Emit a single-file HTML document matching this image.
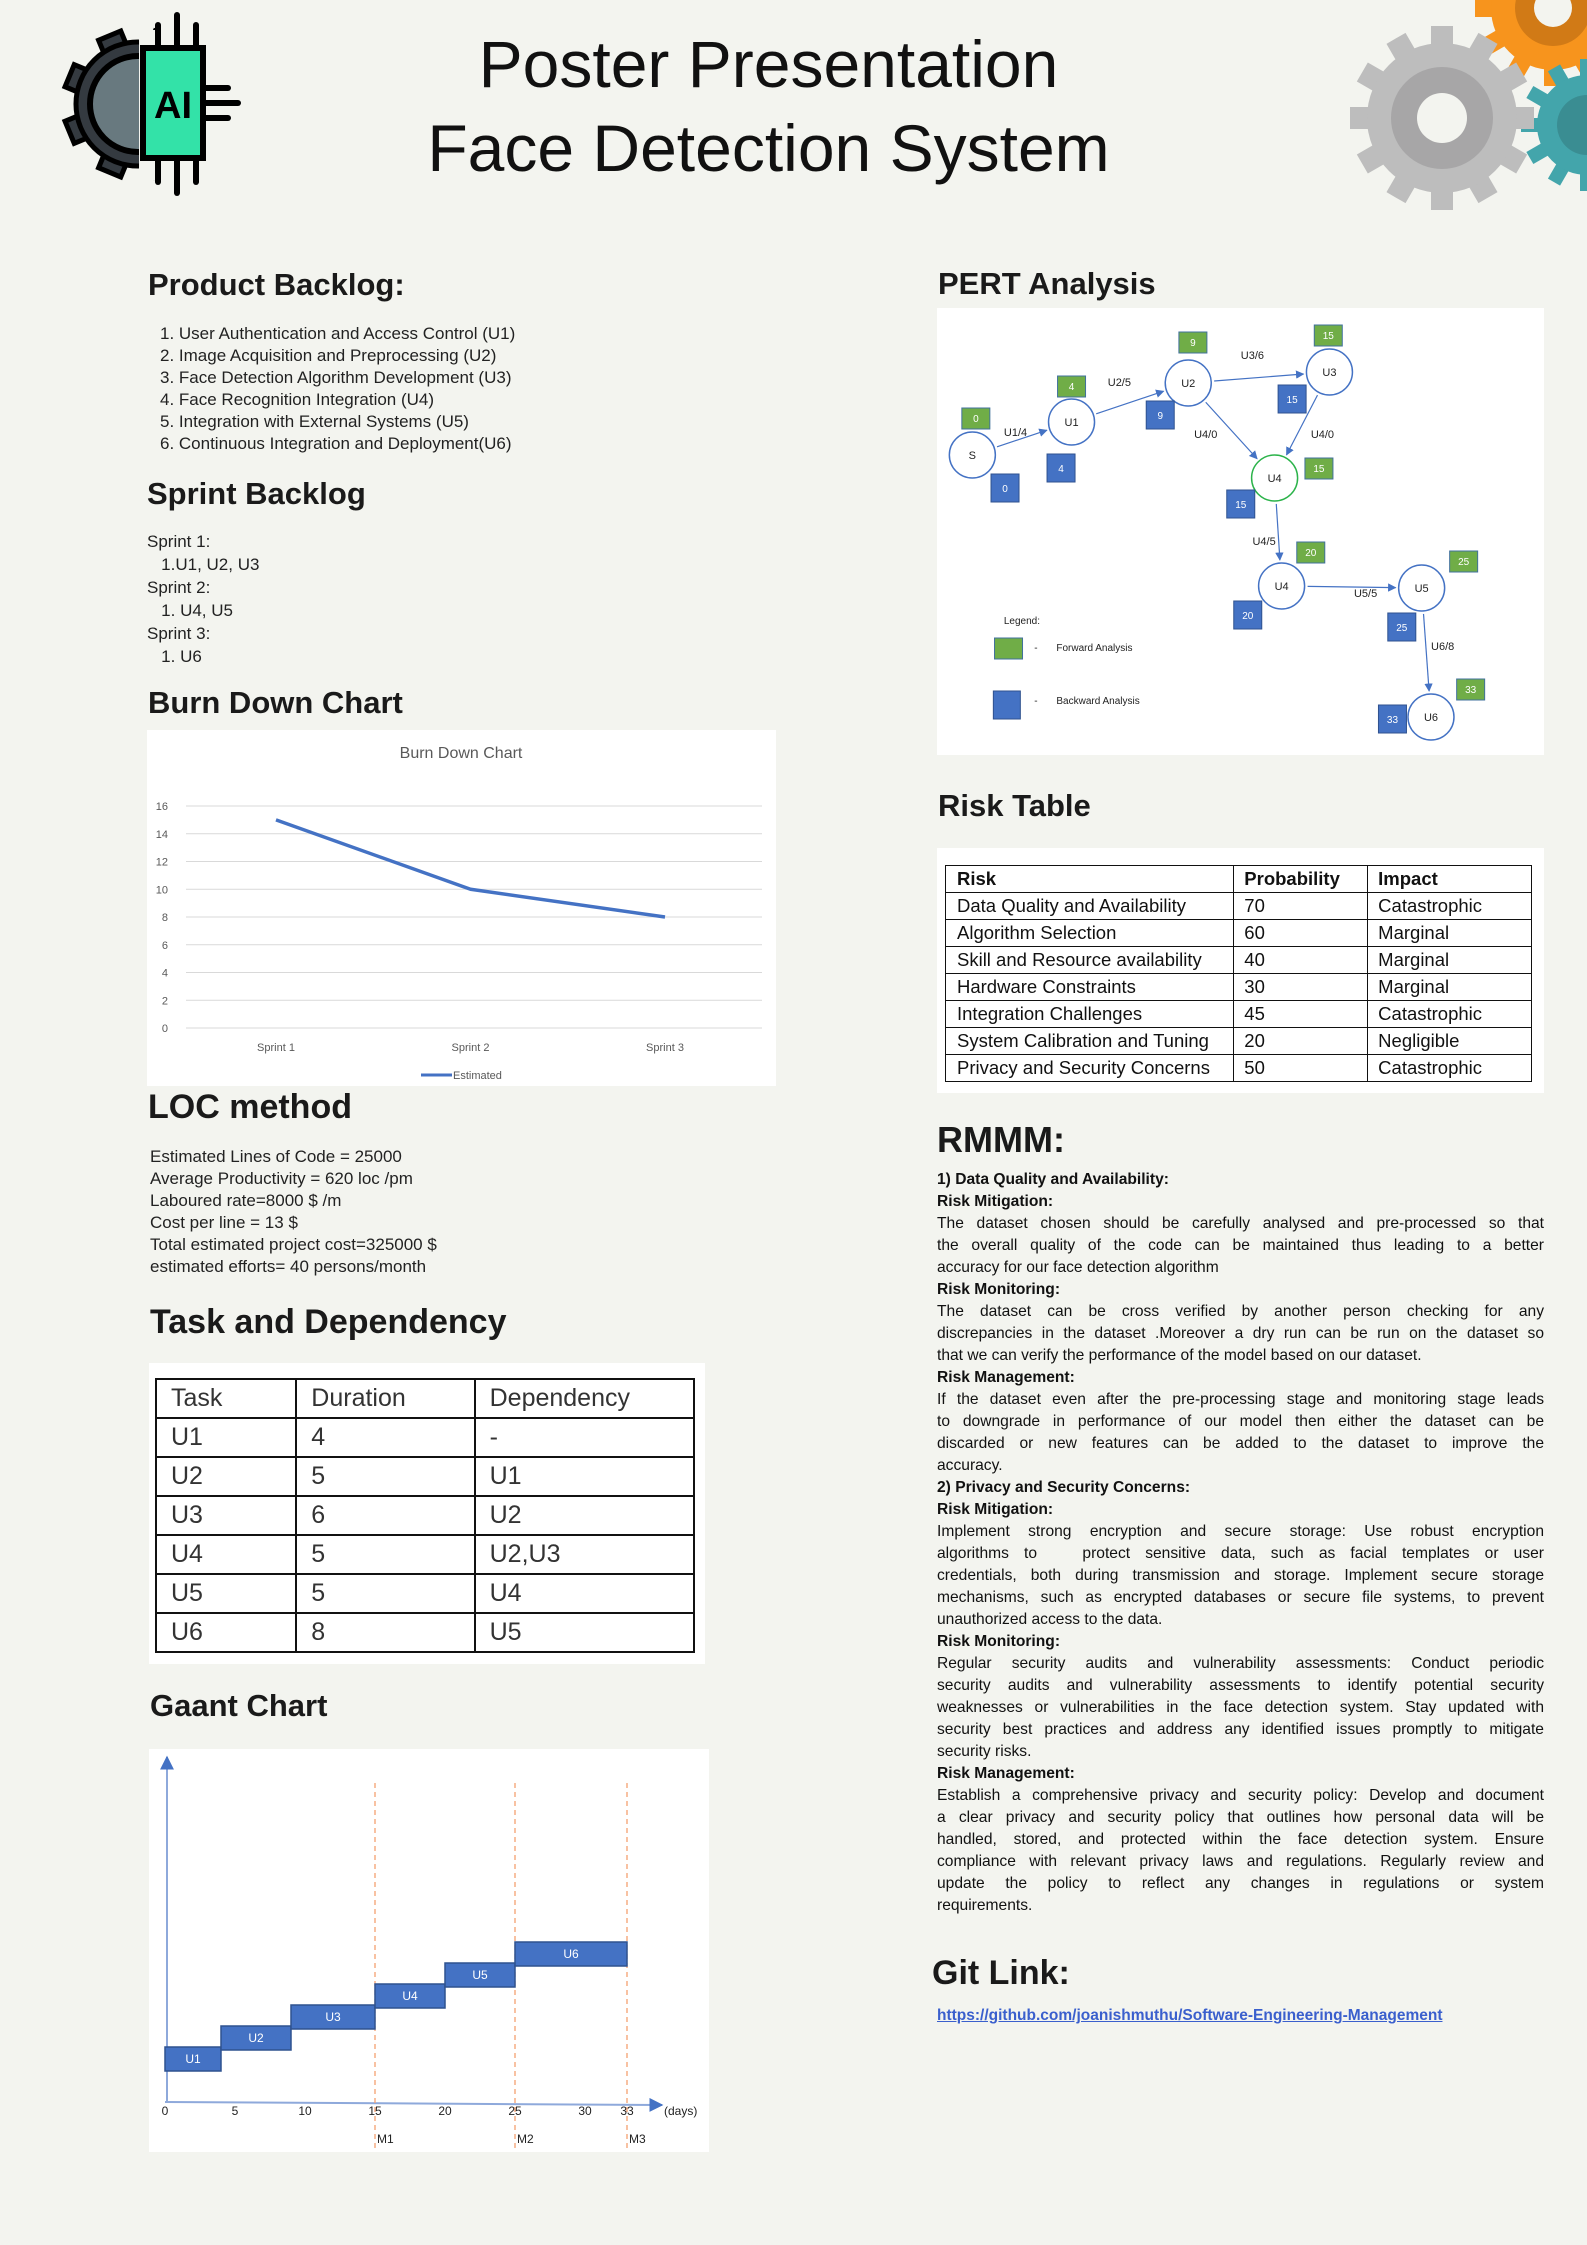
<!DOCTYPE html>
<html><head><meta charset="utf-8">
<style>
body{margin:0;width:1587px;height:2245px;background:#f3f4ef;position:relative;overflow:hidden;font-family:"Liberation Sans",sans-serif;color:#111;}
.a{position:absolute;white-space:nowrap;}
.h{position:absolute;font-weight:bold;font-size:31px;line-height:40px;color:#1a1a1a;white-space:nowrap;}
.t{position:absolute;font-size:17px;line-height:22px;color:#222;white-space:nowrap;}
.box{position:absolute;background:#fff;}
table{border-collapse:collapse;}
#rm{position:absolute;left:937px;top:1169px;width:607px;font-size:15.6px;line-height:22px;color:#111;}
#rm div{white-space:nowrap;overflow:visible;}
#rm .j{text-align:justify;text-align-last:justify;}
#rm b{font-weight:bold;}
</style></head><body>
<div class="a" style="left:0;width:1537px;text-align:center;top:23px;font-size:66px;line-height:82px;color:#111;">Poster Presentation</div>
<div class="a" style="left:0;width:1537px;text-align:center;top:107px;font-size:66px;line-height:82px;color:#111;">Face Detection System</div>

<div class="h" style="left:148px;top:265px;">Product Backlog:</div>
<div class="t" style="left:160px;top:323px;">
1.&nbsp;User Authentication and Access Control (U1)<br>2.&nbsp;Image Acquisition and Preprocessing (U2)<br>3.&nbsp;Face Detection Algorithm Development (U3)<br>4.&nbsp;Face Recognition Integration (U4)<br>5.&nbsp;Integration with External Systems (U5)<br>6.&nbsp;Continuous Integration and Deployment(U6)</div>

<div class="h" style="left:147px;top:474px;">Sprint Backlog</div>
<div class="t" style="left:147px;top:530px;line-height:23px;">
Sprint 1:<br>&nbsp;&nbsp;&nbsp;1.U1, U2, U3<br>Sprint 2:<br>&nbsp;&nbsp;&nbsp;1.&nbsp;U4, U5<br>Sprint 3:<br>&nbsp;&nbsp;&nbsp;1.&nbsp;U6</div>

<div class="h" style="left:148px;top:683px;">Burn Down Chart</div>
<div class="box" style="left:147px;top:730px;width:629px;height:356px;"></div>

<div class="h" style="left:148px;top:1087px;font-size:34px;">LOC method</div>
<div class="t" style="left:150px;top:1146px;">
Estimated Lines of Code = 25000<br>Average Productivity = 620 loc /pm<br>Laboured rate=8000 $ /m<br>Cost per line = 13 $<br>Total estimated project cost=325000 $<br>estimated efforts= 40 persons/month</div>

<div class="h" style="left:150px;top:1302px;font-size:34px;">Task and Dependency</div>
<div class="box" style="left:149px;top:1363px;width:556px;height:301px;">
<table style="position:absolute;left:6px;top:15px;width:540px;font-size:25px;color:#333;">
<colgroup><col style="width:141px"><col style="width:179px"><col style="width:220px"></colgroup>
<tr style="height:39px"><td style="border:2px solid #111;padding-left:14px;">Task</td><td style="border:2px solid #111;padding-left:14px;">Duration</td><td style="border:2px solid #111;padding-left:14px;">Dependency</td></tr>
<tr style="height:39px"><td style="border:2px solid #111;padding-left:14px;">U1</td><td style="border:2px solid #111;padding-left:14px;">4</td><td style="border:2px solid #111;padding-left:14px;">-</td></tr>
<tr style="height:39px"><td style="border:2px solid #111;padding-left:14px;">U2</td><td style="border:2px solid #111;padding-left:14px;">5</td><td style="border:2px solid #111;padding-left:14px;">U1</td></tr>
<tr style="height:39px"><td style="border:2px solid #111;padding-left:14px;">U3</td><td style="border:2px solid #111;padding-left:14px;">6</td><td style="border:2px solid #111;padding-left:14px;">U2</td></tr>
<tr style="height:39px"><td style="border:2px solid #111;padding-left:14px;">U4</td><td style="border:2px solid #111;padding-left:14px;">5</td><td style="border:2px solid #111;padding-left:14px;">U2,U3</td></tr>
<tr style="height:39px"><td style="border:2px solid #111;padding-left:14px;">U5</td><td style="border:2px solid #111;padding-left:14px;">5</td><td style="border:2px solid #111;padding-left:14px;">U4</td></tr>
<tr style="height:39px"><td style="border:2px solid #111;padding-left:14px;">U6</td><td style="border:2px solid #111;padding-left:14px;">8</td><td style="border:2px solid #111;padding-left:14px;">U5</td></tr>
</table></div>

<div class="h" style="left:150px;top:1686px;">Gaant Chart</div>
<div class="box" style="left:149px;top:1749px;width:560px;height:403px;"></div>

<div class="h" style="left:938px;top:264px;">PERT Analysis</div>
<div class="box" style="left:937px;top:308px;width:607px;height:447px;"></div>

<div class="h" style="left:938px;top:786px;">Risk Table</div>
<div class="box" style="left:937px;top:848px;width:607px;height:245px;">
<table style="position:absolute;left:8px;top:17px;width:587px;font-size:18.5px;color:#111;">
<colgroup><col style="width:289px"><col style="width:134px"><col style="width:164px"></colgroup>
<tr style="height:27px;font-weight:bold"><td style="border:1.5px solid #111;padding-left:11px;">Risk</td><td style="border:1.5px solid #111;padding-left:10px;">Probability</td><td style="border:1.5px solid #111;padding-left:10px;">Impact</td></tr>
<tr style="height:27px"><td style="border-left:1.5px solid #111;border-right:1.5px solid #111;padding-left:11px;">Data Quality and Availability</td><td style="border-right:1.5px solid #111;padding-left:10px;">70</td><td style="border-right:1.5px solid #111;padding-left:10px;">Catastrophic</td></tr>
<tr style="height:27px"><td style="border:1.5px solid #111;padding-left:11px;">Algorithm Selection</td><td style="border:1.5px solid #111;padding-left:10px;">60</td><td style="border:1.5px solid #111;padding-left:10px;">Marginal</td></tr>
<tr style="height:27px"><td style="border:1.5px solid #111;padding-left:11px;">Skill and Resource availability</td><td style="border:1.5px solid #111;padding-left:10px;">40</td><td style="border:1.5px solid #111;padding-left:10px;">Marginal</td></tr>
<tr style="height:27px"><td style="border:1.5px solid #111;padding-left:11px;">Hardware Constraints</td><td style="border:1.5px solid #111;padding-left:10px;">30</td><td style="border:1.5px solid #111;padding-left:10px;">Marginal</td></tr>
<tr style="height:27px"><td style="border:1.5px solid #111;padding-left:11px;">Integration Challenges</td><td style="border:1.5px solid #111;padding-left:10px;">45</td><td style="border:1.5px solid #111;padding-left:10px;">Catastrophic</td></tr>
<tr style="height:27px"><td style="border:1.5px solid #111;padding-left:11px;">System Calibration and Tuning</td><td style="border:1.5px solid #111;padding-left:10px;">20</td><td style="border:1.5px solid #111;padding-left:10px;">Negligible</td></tr>
<tr style="height:27px"><td style="border:1.5px solid #111;padding-left:11px;">Privacy and Security Concerns</td><td style="border:1.5px solid #111;padding-left:10px;">50</td><td style="border:1.5px solid #111;padding-left:10px;">Catastrophic</td></tr>
</table></div>

<div class="h" style="left:937px;top:1120px;font-size:36px;">RMMM:</div>
<div id="rm">
<div><b>1) Data Quality and Availability:</b></div>
<div><b>Risk Mitigation:</b></div>
<div class="j">The dataset chosen should be carefully analysed and pre-processed so that</div>
<div class="j">the overall quality of the code can be maintained thus leading to a better</div>
<div>accuracy for our face detection algorithm</div>
<div><b>Risk Monitoring:</b></div>
<div class="j">The dataset can be cross verified by another person checking for any</div>
<div class="j">discrepancies in the dataset .Moreover a dry run can be run on the dataset so</div>
<div>that we can verify the performance of the model based on our dataset.</div>
<div><b>Risk Management:</b></div>
<div class="j">If the dataset even after the pre-processing stage and monitoring stage leads</div>
<div class="j">to downgrade in performance of our model then either the dataset can be</div>
<div class="j">discarded or new features can be added to the dataset to improve the</div>
<div>accuracy.</div>
<div><b>2) Privacy and Security Concerns:</b></div>
<div><b>Risk Mitigation:</b></div>
<div class="j">Implement strong encryption and secure storage: Use robust encryption</div>
<div class="j">algorithms to &nbsp; protect sensitive data, such as facial templates or user</div>
<div class="j">credentials, both during transmission and storage. Implement secure storage</div>
<div class="j">mechanisms, such as encrypted databases or secure file systems, to prevent</div>
<div>unauthorized access to the data.</div>
<div><b>Risk Monitoring:</b></div>
<div class="j">Regular security audits and vulnerability assessments: Conduct periodic</div>
<div class="j">security audits and vulnerability assessments to identify potential security</div>
<div class="j">weaknesses or vulnerabilities in the face detection system. Stay updated with</div>
<div class="j">security best practices and address any identified issues promptly to mitigate</div>
<div>security risks.</div>
<div><b>Risk Management:</b></div>
<div class="j">Establish a comprehensive privacy and security policy: Develop and document</div>
<div class="j">a clear privacy and security policy that outlines how personal data will be</div>
<div class="j">handled, stored, and protected within the face detection system. Ensure</div>
<div class="j">compliance with relevant privacy laws and regulations. Regularly review and</div>
<div class="j">update the policy to reflect any changes in regulations or system</div>
<div>requirements.</div>
</div>

<div class="h" style="left:932px;top:1953px;font-size:34px;">Git Link:</div>
<a class="a" style="left:937px;top:2007px;font-size:15.5px;font-weight:bold;color:#3a5fcd;text-decoration:underline;">https://github.com/joanishmuthu/Software-Engineering-Management</a>

<svg id="ov" width="1587" height="2245" style="position:absolute;left:0;top:0;" xmlns="http://www.w3.org/2000/svg" font-family="Liberation Sans, sans-serif">
<defs>
<marker id="ar" viewBox="0 0 10 10" refX="9" refY="5" markerWidth="7" markerHeight="7" orient="auto"><path d="M0 0L10 5L0 10z" fill="#4472c4"/></marker>
</defs>
<g id="logos"></g>
<g id="bd"></g>
<g id="gantt"></g>
<g id="pert"></g>
</svg>

<script>
// ---------- Burn down data ----------
const bdCategories = ["Sprint 1","Sprint 2","Sprint 3"];
const bdValues = [15,10,8];
const bdTicks = [0,2,4,6,8,10,12,14,16];
// ---------- Gantt data ----------
const ganttTasks = ["U1","U2","U3","U4","U5","U6"];
const ganttStart = [0,4,9,15,20,25];
const ganttDuration = [4,5,6,5,5,8];
const ganttTicks = [0,5,10,15,20,25,30,33];
const ganttMilestones = [15,25,33];
const ganttMilestoneLabels = ["M1","M2","M3"];

const NS="http://www.w3.org/2000/svg";
function mk(parent,tag,attrs,text){const e=document.createElementNS(NS,tag);for(const k in attrs)e.setAttribute(k,attrs[k]);if(text!==undefined)e.textContent=text;parent.appendChild(e);return e;}

// Logos
const lg=document.getElementById('logos');
function gear(cx,cy,rBody,rTooth,n,tw,col){
  const g=mk(lg,'g',{});
  
  
  for(let i=0;i<n;i++){const a=360/n*i;mk(g,'rect',{x:cx-tw/2,y:cy-rTooth,width:tw,height:rTooth,fill:col,transform:`rotate(${a} ${cx} ${cy})`});}
  mk(g,'circle',{cx,cy,r:rBody,fill:col});
  return g;
}
let g1=gear(1553,8,62,78,12,18,'#f7941d');mk(g1,'circle',{cx:1553,cy:8,r:38,fill:'#d17a16'});mk(g1,'circle',{cx:1553,cy:8,r:19,fill:'#f3f4ef'});
let g2=gear(1587,125,50,66,12,14,'#43a5ab');mk(g2,'circle',{cx:1587,cy:125,r:30,fill:'#3a8d92'});
let g3=gear(1442,118,75,92,12,22,'#bdbdbd');mk(g3,'circle',{cx:1442,cy:118,r:51,fill:'#a7a6a7'});mk(g3,'circle',{cx:1442,cy:118,r:25,fill:'#f3f4ef'});
// AI logo
const ai=mk(lg,'g',{});


for(let i=0;i<8;i++){const a=45*i+22.5;mk(ai,'rect',{x:126,y:30,width:24,height:30,fill:'#343a40',stroke:'#000','stroke-width':5,transform:`rotate(${a} 138 104)`});}
mk(ai,'circle',{cx:138,cy:104,r:62,fill:'#343a40',stroke:'#000','stroke-width':5});
mk(ai,'circle',{cx:138,cy:104,r:48,fill:'#68797f',stroke:'#000','stroke-width':6});
mk(ai,'rect',{x:139,y:30,width:100,height:150,fill:'#f3f4ef'});
mk(ai,'rect',{x:143,y:48,width:60,height:110,fill:'#33e2a8',stroke:'#000','stroke-width':6});
mk(ai,'text',{x:173,y:118,'font-size':38,'font-weight':'bold','text-anchor':'middle',fill:'#000'},'AI');
[[158,48,158,25],[177,48,177,15],[196,48,196,25],[158,158,158,182],[177,158,177,193],[196,158,196,182],[206,88,228,88],[206,103,238,103],[206,118,228,118]].forEach(l=>mk(ai,'line',{x1:l[0],y1:l[1],x2:l[2],y2:l[3],stroke:'#000','stroke-width':6,'stroke-linecap':'round'}));

// Burn down chart
const bd=document.getElementById('bd');
const byv=v=>1028-v*(1028-806)/16;
const bx=i=>276+i*194.5;
mk(bd,'text',{x:461,y:758,'font-size':16,'text-anchor':'middle',fill:'#595959'},'Burn Down Chart');
bdTicks.forEach(t=>{
  const ln=mk(bd,'line',{x1:186,x2:762,y1:byv(t),y2:byv(t),stroke:'#d9d9d9','stroke-width':1});
  
  
  const tx=mk(bd,'text',{x:168,y:byv(t)+4,'font-size':11,'text-anchor':'end',fill:'#595959'},String(t));
  
  
});
bdCategories.forEach((c,i)=>{const tx=mk(bd,'text',{x:bx(i),y:1051,'font-size':11,'text-anchor':'middle',fill:'#595959'},c);
  
  });
const bdl=mk(bd,'polyline',{points:bdValues.map((v,i)=>bx(i)+','+byv(v)).join(' '),fill:'none',stroke:'#4472c4','stroke-width':3.5,'stroke-linejoin':'round'});


mk(bd,'line',{x1:421,x2:452,y1:1075,y2:1075,stroke:'#4472c4','stroke-width':3});
mk(bd,'text',{x:453,y:1079,'font-size':11,fill:'#595959'},'Estimated');

// Gantt
const gt=document.getElementById('gantt');
const gx=d=>165+d*14;
const gy=i=>2059-i*21;
mk(gt,'line',{x1:167,y1:2102,x2:167,y2:1757,stroke:'#8ea9db','stroke-width':2,'marker-end':'url(#ar)'});
mk(gt,'line',{x1:165,y1:2102,x2:662,y2:2105,stroke:'#8ea9db','stroke-width':2,'marker-end':'url(#ar)'});
mk(gt,'text',{x:664,y:2115,'font-size':12,fill:'#222'},'(days)');
ganttMilestones.forEach((m,i)=>{
  const l=mk(gt,'line',{x1:gx(m),x2:gx(m),y1:1783,y2:2152,stroke:'#f4a070','stroke-width':1.3,'stroke-dasharray':'5,4'});
  
  
  const t=mk(gt,'text',{x:gx(m)+2,y:2143,'font-size':12,fill:'#222'},ganttMilestoneLabels[i]);
  
  
});
ganttTicks.forEach(t=>{const e=mk(gt,'text',{x:gx(t),y:2115,'font-size':12,'text-anchor':'middle',fill:'#222'},String(t));
  
  });
ganttTasks.forEach((n,i)=>{
  const r=mk(gt,'rect',{x:gx(ganttStart[i]),y:gy(i)-12,width:ganttDuration[i]*14,height:24,fill:'#4472c4',stroke:'#2f528f','stroke-width':1.5});
  
  
  mk(gt,'text',{x:gx(ganttStart[i]+ganttDuration[i]/2),y:gy(i)+4,'font-size':12,'text-anchor':'middle',fill:'#fff'},n);
});

// PERT diagram
const pt=document.getElementById('pert');
const X=x=>935+(x-935)*1.167;
const nodes={S:[967,455,'S','#4472c4'],U1:[1052,422,'U1','#4472c4'],U2:[1152,383,'U2','#4472c4'],U3:[1273,372,'U3','#4472c4'],U4a:[1226,478,'U4','#2bb34a'],U4b:[1232,586,'U4','#4472c4'],U5:[1352,588,'U5','#4472c4'],U6:[1360,717,'U6','#4472c4']};
const edges=[['S','U1','U1/4',1004,436],['U1','U2','U2/5',1093,386],['U2','U3','U3/6',1207,359],['U2','U4a','U4/0',1167,438],['U3','U4a','U4/0',1267,438],['U4a','U4b','U4/5',1217,545],['U4b','U5','U5/5',1304,597],['U5','U6','U6/8',1370,650]];
const R=23;
edges.forEach(e=>{const a=nodes[e[0]],b=nodes[e[1]];const ax=X(a[0]),bx2=X(b[0]);const dx=bx2-ax,dy=b[1]-a[1],L=Math.hypot(dx,dy);
  const l=mk(pt,'line',{x1:ax+dx/L*(R+3),y1:a[1]+dy/L*(R+3),x2:bx2-dx/L*(R+3),y2:b[1]-dy/L*(R+3),stroke:'#4472c4','stroke-width':1.2,'marker-end':'url(#ar)'});
  
  
  mk(pt,'text',{x:X(e[3]),y:e[4],'font-size':11,'text-anchor':'middle',fill:'#222'},e[2]);});
Object.keys(nodes).forEach(k=>{const n=nodes[k];
  const c=mk(pt,'circle',{cx:X(n[0]),cy:n[1],r:R,fill:'#fff',stroke:n[3],'stroke-width':1.5});
  
  
  mk(pt,'text',{x:X(n[0]),y:n[1]+4,'font-size':11,'text-anchor':'middle',fill:'#222'},n[2]);});
const gboxes=[[970,418,'0'],[1052,386,'4'],[1156,342,'9'],[1272,335,'15'],[1264,468,'15'],[1257,552,'20'],[1388,561,'25'],[1394,689,'33']];
const bboxes=[[995,488,'0'],[1043,468,'4'],[1128,415,'9'],[1241,399,'15'],[1197,504,'15'],[1203,615,'20'],[1335,627,'25'],[1327,719,'33']];
gboxes.forEach(b=>{const r=mk(pt,'rect',{x:X(b[0])-14,y:b[1]-10,width:28,height:21,fill:'#70ad47',stroke:'#41719c','stroke-width':1});
  
  
  mk(pt,'text',{x:X(b[0]),y:b[1]+4,'font-size':10,'text-anchor':'middle',fill:'#fff'},b[2]);});
bboxes.forEach(b=>{const r=mk(pt,'rect',{x:X(b[0])-14,y:b[1]-14,width:28,height:28,fill:'#4472c4',stroke:'#2f528f','stroke-width':1});
  
  
  mk(pt,'text',{x:X(b[0]),y:b[1]+4,'font-size':10,'text-anchor':'middle',fill:'#fff'},b[2]);});
mk(pt,'text',{x:X(994),y:624,'font-size':10,fill:'#222'},'Legend:');
mk(pt,'rect',{x:X(986),y:638,width:28,height:21,fill:'#70ad47',stroke:'#41719c'});
mk(pt,'text',{x:X(1020),y:651,'font-size':10,fill:'#222'},'-');
mk(pt,'text',{x:X(1039),y:651,'font-size':10,fill:'#222'},'Forward Analysis');
mk(pt,'rect',{x:X(985),y:691,width:27,height:28,fill:'#4472c4',stroke:'#2f528f'});
mk(pt,'text',{x:X(1020),y:704,'font-size':10,fill:'#222'},'-');
mk(pt,'text',{x:X(1039),y:704,'font-size':10,fill:'#222'},'Backward Analysis');
</script>
</body></html>
